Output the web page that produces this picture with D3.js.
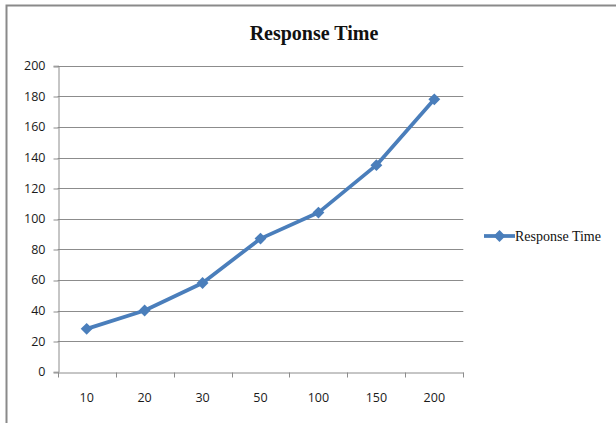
<!DOCTYPE html>
<html>
<head>
<meta charset="utf-8">
<script src="https://cdn.jsdelivr.net/npm/d3@7"></script>
<style>
  html, body { margin: 0; padding: 0; background: #fff; }
  svg { display: block; }
</style>
</head>
<body>
<svg id="chart" width="616" height="423"></svg>
<script>
// Response time per load level
const categories = ["10", "20", "30", "50", "100", "150", "200"];
const responseTime = [28, 40, 58, 87, 104, 135, 178];
const yTicks = [0, 20, 40, 60, 80, 100, 120, 140, 160, 180, 200];
const seriesName = "Response Time";
const chartTitle = "Response Time";

const W = 616, H = 423;
const plot = { left: 57.7, right: 463.3, top: 65.7, bottom: 371.7 };
const blue = "#4A7EBB";
const grid = "#8C8C8C";

const svg = d3.select("#chart");

// chart frame (only top and left edges fall inside the view)
svg.append("rect")
  .attr("x", 6.5).attr("y", 5.5)
  .attr("width", W + 20).attr("height", H + 20)
  .attr("fill", "#fff")
  .attr("stroke", "#8a8a8a").attr("stroke-width", 2);

const x = d3.scaleBand().domain(categories).range([plot.left, plot.right]).padding(0);
const y = d3.scaleLinear().domain([0, 200]).range([plot.bottom, plot.top]);

// horizontal gridlines
svg.append("g")
  .selectAll("line")
  .data(yTicks.filter(t => t > 0))
  .join("line")
  .attr("x1", plot.left).attr("x2", plot.right)
  .attr("y1", d => Math.round(y(d)) + 0.5).attr("y2", d => Math.round(y(d)) + 0.5)
  .attr("stroke", grid).attr("stroke-width", 1);

const labelFont = "'Open Sans', 'Liberation Sans', sans-serif";

// y axis
const yAxis = svg.append("g")
  .attr("transform", `translate(${Math.round(plot.left) + 0.5},0)`)
  .call(d3.axisLeft(y).tickValues(yTicks).tickSize(5).tickPadding(8));
yAxis.select(".domain").attr("stroke", grid);
yAxis.selectAll(".tick line").attr("stroke", grid)
  .attr("transform", d => `translate(0,${Math.round(y(d)) + 0.5 - y(d)})`);
yAxis.selectAll("text")
  .attr("font-family", labelFont)
  .attr("font-size", 12.5).attr("fill", "#1a1a1a");

// x axis with ticks at category boundaries
const xAxis = svg.append("g")
  .attr("transform", `translate(0,${Math.round(plot.bottom) + 0.5})`)
  .call(d3.axisBottom(x).tickSize(0).tickPadding(21));
xAxis.select(".domain").attr("stroke", grid);
xAxis.selectAll("text")
  .attr("font-family", labelFont)
  .attr("font-size", 12.5).attr("fill", "#1a1a1a");
xAxis.selectAll("line.bound")
  .data(categories.map(c => x(c)).concat([plot.right]))
  .join("line")
  .attr("class", "bound")
  .attr("x1", d => Math.round(d) + 0.5).attr("x2", d => Math.round(d) + 0.5)
  .attr("y1", 0).attr("y2", 5)
  .attr("stroke", grid);

// series line
const cx = c => x(c) + x.bandwidth() / 2;
const pts = categories.map((c, i) => [cx(c), y(responseTime[i])]);
svg.append("path")
  .attr("d", d3.line()(pts))
  .attr("fill", "none")
  .attr("stroke", blue)
  .attr("stroke-width", 3.75)
  .attr("stroke-linejoin", "round")
  .attr("stroke-linecap", "round");

// diamond markers
const diamond = d3.symbol().type(d3.symbolDiamond2).size(90);
svg.append("g")
  .selectAll("path")
  .data(pts)
  .join("path")
  .attr("d", diamond)
  .attr("transform", d => `translate(${d[0]},${d[1]})`)
  .attr("fill", blue);

// title
svg.append("text")
  .attr("x", 314).attr("y", 40)
  .attr("text-anchor", "middle")
  .attr("font-family", "'Liberation Serif', 'Times New Roman', serif")
  .attr("font-weight", "bold")
  .attr("font-size", 20)
  .attr("fill", "#111")
  .text(chartTitle);

// legend
const lg = svg.append("g").attr("transform", "translate(484,236)");
lg.append("line")
  .attr("x1", 0).attr("x2", 31).attr("y1", 0).attr("y2", 0)
  .attr("stroke", blue).attr("stroke-width", 3.75);
lg.append("path").attr("d", diamond).attr("transform", "translate(15.5,0)").attr("fill", blue);
lg.append("text")
  .attr("x", 31).attr("y", 5)
  .attr("font-family", "'Liberation Serif', 'Times New Roman', serif")
  .attr("font-size", 14)
  .attr("fill", "#111")
  .text(seriesName);
</script>
</body>
</html>
